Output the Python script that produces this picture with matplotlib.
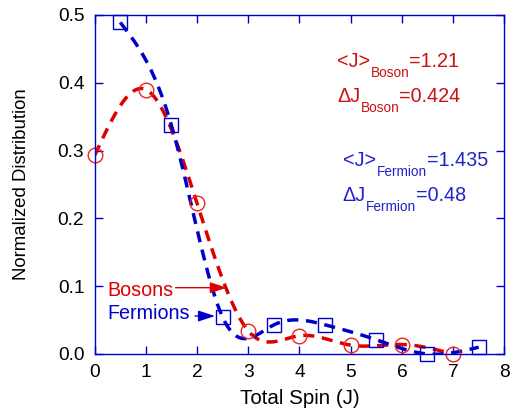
import numpy as np
import matplotlib
matplotlib.use('Agg')
import matplotlib.pyplot as plt

plt.rcParams['font.family'] = ['Liberation Sans', 'DejaVu Sans']

# data
boson_j = [0, 1, 2, 3, 4, 5, 6, 7]
boson_p = [0.293, 0.390, 0.222, 0.034, 0.027, 0.013, 0.014, 0.0]
fermion_j = [0.5, 1.5, 2.5, 3.5, 4.5, 5.5, 6.5, 7.5]
fermion_p = [0.489, 0.337, 0.054, 0.043, 0.043, 0.021, 0.0, 0.010]

red = '#dd0000'
blue = '#0000cc'
red_txt = '#cc1111'
blue_txt = '#2222cc'


def natural_spline(x, y, n=300):
    x = np.asarray(x, float)
    y = np.asarray(y, float)
    k = len(x)
    h = np.diff(x)
    A = np.zeros((k, k))
    b = np.zeros(k)
    A[0, 0] = A[-1, -1] = 1
    for i in range(1, k - 1):
        A[i, i - 1] = h[i - 1]
        A[i, i] = 2 * (h[i - 1] + h[i])
        A[i, i + 1] = h[i]
        b[i] = 6 * ((y[i + 1] - y[i]) / h[i] - (y[i] - y[i - 1]) / h[i - 1])
    m = np.linalg.solve(A, b)
    xs = np.linspace(x[0], x[-1], n)
    idx = np.clip(np.searchsorted(x, xs) - 1, 0, k - 2)
    x0, x1 = x[idx], x[idx + 1]
    hh = x1 - x0
    t0, t1 = x1 - xs, xs - x0
    ys = (m[idx] * t0 ** 3 + m[idx + 1] * t1 ** 3) / (6 * hh) \
        + (y[idx] / hh - m[idx] * hh / 6) * t0 \
        + (y[idx + 1] / hh - m[idx + 1] * hh / 6) * t1
    return xs, ys


def sub_text(ax, x, y, main, sub, rest, color, size=14.2, subsize=9.8, drop=10):
    # main text, then a lowered subscript, then the rest, all on one baseline
    r = ax.figure.canvas.get_renderer()
    inv = ax.transData.inverted()
    t = ax.text(x, y, main, color=color, fontsize=size, va='baseline')
    px, py = ax.transData.transform((x, y))
    ex = t.get_window_extent(r).x1
    sx, sy = inv.transform((ex, py - drop))
    s = ax.text(sx, sy, sub, color=color, fontsize=subsize, va='baseline')
    ex = s.get_window_extent(r).x1
    rx, ry = inv.transform((ex, py))
    ax.text(rx, ry, rest, color=color, fontsize=size, va='baseline')


fig = plt.figure(figsize=(5.13, 4.15), dpi=100)
ax = fig.add_axes([0.1846, 0.147, 0.7984, 0.8169])

bx, by = natural_spline(boson_j, boson_p)
fx, fy = natural_spline(fermion_j, fermion_p)
ax.plot(bx, by, '--', color=red, lw=2.5, dashes=(3.2, 2.2))
ax.plot(fx, fy, '--', color=blue, lw=2.5, dashes=(3.2, 2.2))
ax.plot(boson_j, boson_p, 'o', mfc='none', mec='#ee2222', ms=10.5, mew=1.0, clip_on=False)
ax.plot(fermion_j, fermion_p, 's', mfc='none', mec=blue, ms=9.7, mew=1.0, clip_on=False)

ax.set_xlim(0, 8)
ax.set_ylim(0, 0.5)
ax.set_xticks(range(9))
ax.set_yticks([0, 0.1, 0.2, 0.3, 0.4, 0.5])
ax.set_yticklabels(['0.0', '0.1', '0.2', '0.3', '0.4', '0.5'])
ax.tick_params(direction='in', top=True, right=True, length=5.5, color=blue,
               labelsize=13.8, width=1, pad=7.5)
for s in ax.spines.values():
    s.set_color(blue)
    s.set_linewidth(1.0)

ax.set_xlabel('Total Spin (J)', fontsize=14.8)
ax.set_ylabel('Normalized Distribution', fontsize=13.4)
ax.xaxis.set_label_coords(0.5, -0.102)
ax.yaxis.set_label_coords(-0.158, 0.5)

ax.text(0.246, 0.0855, 'Bosons', color=red, fontsize=14.2, va='baseline')
ax.text(0.246, 0.0512, 'Fermions', color=blue, fontsize=14.2, va='baseline')
ax.annotate('', xy=(2.58, 0.0978), xytext=(1.58, 0.0978),
            arrowprops=dict(arrowstyle='-|>,head_length=0.85,head_width=0.28',
                            color=red, lw=1, mutation_scale=12, shrinkA=0, shrinkB=0))
ax.annotate('', xy=(2.35, 0.056), xytext=(1.96, 0.056),
            arrowprops=dict(arrowstyle='-|>,head_length=0.85,head_width=0.28',
                            color=blue, lw=1, mutation_scale=12, shrinkA=0, shrinkB=0))

sub_text(ax, 4.74, 0.4237, '<J>', 'Boson', '=1.21', red_txt)
sub_text(ax, 4.74, 0.372, 'ΔJ', 'Boson', '=0.424', red_txt)
sub_text(ax, 4.855, 0.2777, '<J>', 'Fermion', '=1.435', blue_txt)
sub_text(ax, 4.845, 0.2257, 'ΔJ', 'Fermion', '=0.48', blue_txt)

fig.savefig('out.png', dpi=100)
